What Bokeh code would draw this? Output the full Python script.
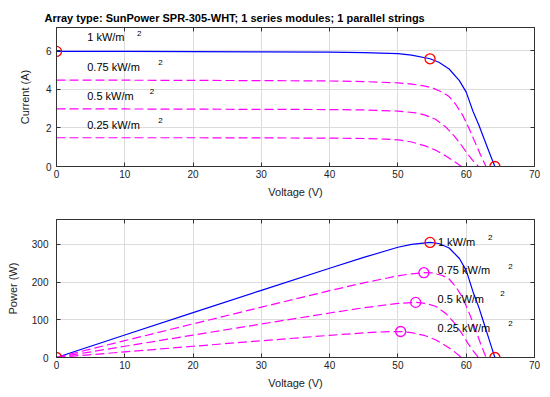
from bokeh.plotting import figure
from bokeh.models import Range1d, LinearAxis, FixedTicker, Title
from bokeh.layouts import column
from bokeh.embed import file_html
from bokeh.resources import INLINE
from bokeh.core.properties import value

# ---------------- data ----------------
irradiance_labels = ["1 kW/m", "0.75 kW/m", "0.5 kW/m", "0.25 kW/m"]

V1 = [0, 10, 20, 30, 40, 45, 50, 52, 54.7, 56, 57.5, 59, 60, 61, 61.85, 62.6, 63.3, 63.8, 64.2]
I1 = [5.96, 5.96, 5.95, 5.94, 5.92, 5.9, 5.85, 5.77, 5.58, 5.4, 5.05, 4.45, 3.85, 2.85, 2.15, 1.45, 0.8, 0.35, 0]
P1 = [0, 59.6, 119, 178.2, 236.8, 265.5, 292.5, 300, 305.2, 302.4, 290.4, 262.6, 231, 173.9, 133, 90.8, 50.6, 22.3, 0]

V2 = [0, 10, 20, 30, 40, 45, 50, 52, 53.8, 55, 56.5, 57.5, 58.5, 59.5, 60.5, 61.3, 62.1, 62.9]
I2 = [4.47, 4.47, 4.46, 4.45, 4.43, 4.4, 4.33, 4.27, 4.18, 4.08, 3.85, 3.62, 3.2, 2.65, 1.9, 1.25, 0.6, 0]
P2 = [0, 44.7, 89.2, 133.5, 177.2, 198, 216.5, 222, 224.9, 224.4, 217.5, 208.2, 187.2, 157.7, 115, 76.6, 37.3, 0]

V3 = [0, 10, 20, 30, 40, 45, 50, 52.6, 54, 55.5, 57, 58.2, 59.3, 60.3, 61.1, 61.8]
I3 = [2.98, 2.98, 2.97, 2.96, 2.95, 2.93, 2.87, 2.78, 2.66, 2.45, 2.05, 1.6, 1.1, 0.6, 0.25, 0]
P3 = [0, 29.8, 59.4, 88.8, 118, 131.9, 143.5, 146.2, 143.6, 136, 116.9, 93.1, 65.2, 36.2, 15.3, 0]

V4 = [0, 10, 20, 30, 40, 45, 48, 50.4, 52, 54, 55.5, 57, 58.2, 59.3]
I4 = [1.49, 1.49, 1.49, 1.48, 1.47, 1.45, 1.42, 1.37, 1.27, 1.07, 0.85, 0.55, 0.28, 0]
P4 = [0, 14.9, 29.8, 44.4, 58.8, 65.3, 68.2, 69.0, 66.0, 57.8, 47.2, 31.4, 16.3, 0]

# key points (1 kW/m2): short circuit, MPP, open circuit
key_v_iv = [0, 54.7, 64.2]
key_i_iv = [5.96, 5.58, 0]
key_v_pv = [0, 54.7, 64.2]
key_p_pv = [0, 305.2, 0]
# MPPs of the reduced irradiance curves
mpp_v = [53.8, 52.6, 50.4]
mpp_p = [224.9, 146.2, 69.0]

x_ticks = [0, 10, 20, 30, 40, 50, 60, 70]
i_ticks = [0, 2, 4, 6]
p_ticks = [0, 100, 200, 300]

# ---------------- styling ----------------
FONT = "Liberation Sans"
AX = "#333333"
GRID = "#dcdcdc"
BLUE = "#0000ff"
MAG = "#ff00ff"
RED = "#ff0000"


def make_fig(frame_h, ymax, yticks, ylabel, btop, bbottom, ylab_standoff, tick_standoff):
    p = figure(frame_width=478, frame_height=frame_h,
               x_range=Range1d(0, 70), y_range=Range1d(0, ymax),
               output_backend="svg", toolbar_location=None,
               min_border_left=56, min_border_right=6,
               min_border_top=btop, min_border_bottom=bbottom,
               x_axis_label="Voltage (V)", y_axis_label=ylabel)
    p.outline_line_color = AX
    p.outline_line_width = 1
    p.background_fill_color = "white"
    p.border_fill_color = "white"
    for ax in (p.xaxis[0], p.yaxis[0]):
        ax.axis_line_color = AX
        ax.major_tick_line_color = AX
        ax.major_tick_in = 4
        ax.major_tick_out = 0
        ax.minor_tick_line_color = None
        ax.major_label_text_font = FONT
        ax.major_label_text_font_size = "10px"
        ax.major_label_text_color = "#222222"
        ax.axis_label_text_font = FONT
        ax.axis_label_text_font_size = "11px"
        ax.axis_label_text_font_style = "normal"
        ax.axis_label_text_color = "#222222"
    p.xaxis[0].ticker = FixedTicker(ticks=x_ticks)
    p.yaxis[0].ticker = FixedTicker(ticks=yticks)
    p.xaxis[0].major_label_standoff = 3
    p.xaxis[0].axis_label_standoff = 5
    p.yaxis[0].major_label_standoff = tick_standoff
    p.yaxis[0].axis_label_standoff = ylab_standoff
    # boxed frame ticks on top and right
    for side, tk in (("right", yticks), ("above", x_ticks)):
        a = LinearAxis(ticker=FixedTicker(ticks=tk))
        a.axis_line_color = AX
        a.major_tick_line_color = AX
        a.major_tick_in = 4
        a.major_tick_out = 0
        a.minor_tick_line_color = None
        a.major_label_text_font_size = "0px"
        a.major_label_text_color = None
        a.major_label_standoff = 0
        p.add_layout(a, side)
    p.xgrid.ticker = FixedTicker(ticks=x_ticks)
    p.ygrid.ticker = FixedTicker(ticks=yticks)
    p.xgrid.grid_line_color = GRID
    p.ygrid.grid_line_color = GRID
    return p


# ---------------- top: I-V ----------------
p1 = make_fig(139, 7.2, i_ticks, "Current (A)", 27, 39, 12, 5)
p1.title = Title(text="Array type: SunPower SPR-305-WHT; 1 series modules; 1 parallel strings",
                 align="left", offset=-12, standoff=8,
                 text_font=FONT, text_font_size="11px", text_font_style="bold",
                 text_color="black")
p1.line(V1, I1, line_color=BLUE, line_width=1.2)
for V, I in ((V2, I2), (V3, I3), (V4, I4)):
    p1.line(V, I, line_color=MAG, line_width=1.2, line_dash="9 4")
p1.scatter(key_v_iv, key_i_iv, marker="circle", size=10, fill_color=None,
           line_color=RED, line_width=1.3)

lab_iv_x = [4.5, 4.5, 4.5, 4.5]
lab_iv_y = [6.70, 5.17, 3.64, 2.13]
sup_iv_x = [11.8, 14.9, 13.65, 14.9]
sup_iv_y = [6.87, 5.37, 3.87, 2.39]
p1.text(x=lab_iv_x, y=lab_iv_y, text=irradiance_labels, text_font=value(FONT),
        text_font_size=value("11px"), text_baseline="middle", text_align="left",
        text_color="black")
p1.text(x=sup_iv_x, y=sup_iv_y, text=["2"] * 4, text_font=value(FONT),
        text_font_size=value("8px"), text_baseline="middle", text_align="left",
        text_color="black")

# ---------------- bottom: P-V ----------------
p2 = make_fig(138, 366, p_ticks, "Power (W)", 14, 32, 10, 8)
p2.line(V1, P1, line_color=BLUE, line_width=1.2)
for V, P in ((V2, P2), (V3, P3), (V4, P4)):
    p2.line(V, P, line_color=MAG, line_width=1.2, line_dash="9 4")
p2.scatter(key_v_pv, key_p_pv, marker="circle", size=10, fill_color=None,
           line_color=RED, line_width=1.3)
p2.scatter(mpp_v, mpp_p, marker="circle", size=10, fill_color=None,
           line_color=MAG, line_width=1.3)

lab_pv_x = [55.85, 55.8, 55.8, 55.8]
lab_pv_y = [306, 231, 156, 79]
sup_pv_x = [63.2, 66.15, 65.0, 66.15]
sup_pv_y = [319, 241.6, 169, 91]
p2.text(x=lab_pv_x, y=lab_pv_y, text=irradiance_labels, text_font=value(FONT),
        text_font_size=value("11px"), text_baseline="middle", text_align="left",
        text_color="black")
p2.text(x=sup_pv_x, y=sup_pv_y, text=["2"] * 4, text_font=value(FONT),
        text_font_size=value("8px"), text_baseline="middle", text_align="left",
        text_color="black")

layout = column(p1, p2, spacing=0)
open("out.html", "w").write(file_html(layout, INLINE))
